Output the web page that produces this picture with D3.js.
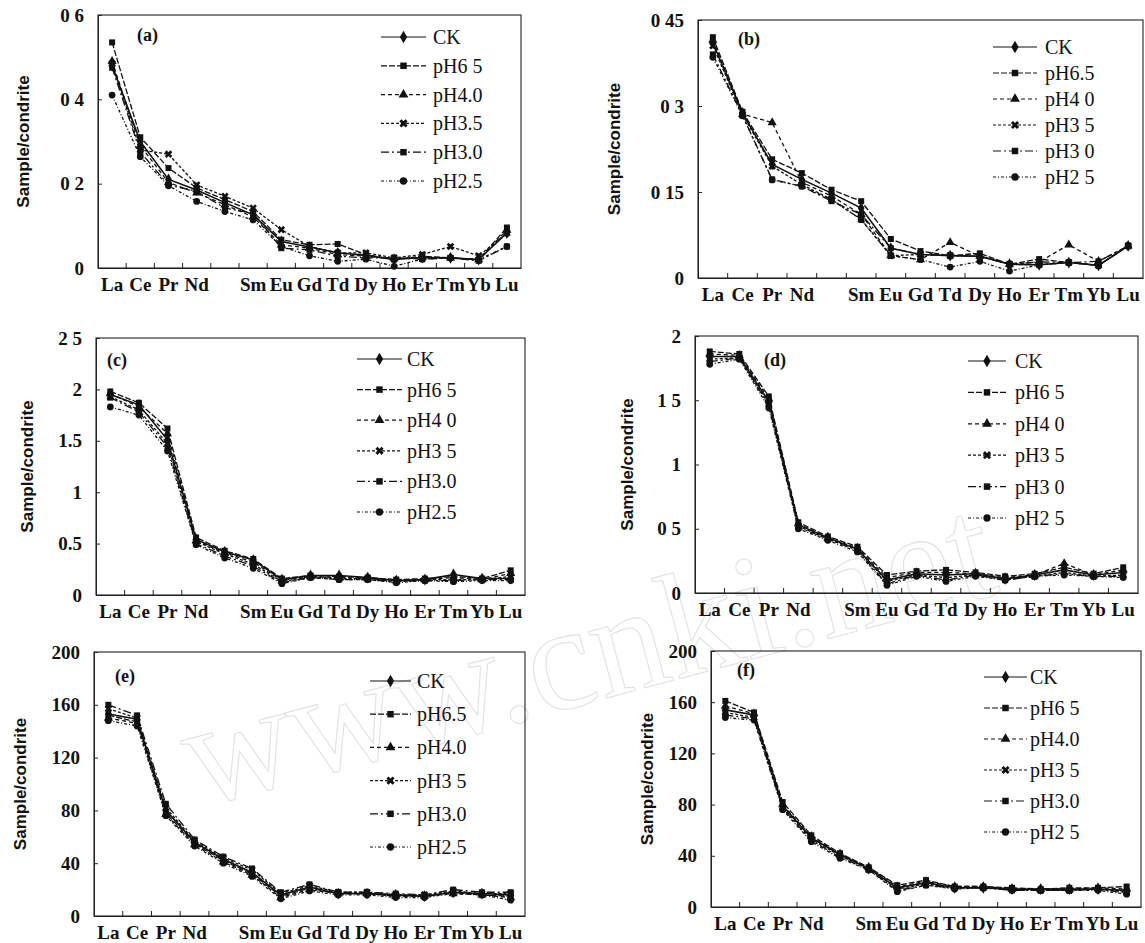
<!DOCTYPE html>
<html><head><meta charset="utf-8">
<script src="https://cdn.jsdelivr.net/npm/d3@7/dist/d3.min.js"></script>
<style>
html,body{margin:0;padding:0;background:#fff;}
svg{display:block;}
</style></head>
<body>
<svg id="chart" width="1145" height="943"></svg>
<script>
// ---------- DATA ----------
const elements = ["La","Ce","Pr","Nd","Pm","Sm","Eu","Gd","Td","Dy","Ho","Er","Tm","Yb","Lu"];
const elementLabels = ["La","Ce","Pr","Nd","","Sm","Eu","Gd","Td","Dy","Ho","Er","Tm","Yb","Lu"];
const seriesKeys = ["CK","pH6.5","pH4.0","pH3.5","pH3.0","pH2.5"];

// panel (a)
const legendA = ["CK","pH6 5","pH4.0","pH3.5","pH3.0","pH2.5"];
const tickValsA = [0,0.2,0.4,0.6];
const tickLabelsA = ["0","0 2","0 4","0 6"];
const a_CK   = [0.480,0.300,0.210,0.185,0.155,0.126,0.063,0.050,0.036,0.030,0.020,0.025,0.024,0.020,0.083];
const a_pH65 = [0.535,0.310,0.237,0.190,0.162,0.134,0.067,0.055,0.057,0.032,0.020,0.028,0.024,0.020,0.096];
const a_pH40 = [0.490,0.290,0.203,0.178,0.150,0.121,0.055,0.047,0.032,0.028,0.022,0.025,0.024,0.020,0.090];
const a_pH35 = [0.485,0.280,0.270,0.197,0.170,0.142,0.091,0.051,0.036,0.036,0.024,0.032,0.051,0.029,0.083];
const a_pH30 = [0.475,0.275,0.197,0.182,0.142,0.130,0.047,0.043,0.028,0.024,0.024,0.021,0.024,0.017,0.051];
const a_pH25 = [0.410,0.264,0.195,0.158,0.134,0.114,0.051,0.029,0.016,0.021,0.004,0.021,0.024,0.020,0.051];

// panel (b)
const legendB = ["CK","pH6.5","pH4 0","pH3 5","pH3 0","pH2 5"];
const tickValsB = [0,0.15,0.3,0.45];
const tickLabelsB = ["0","0 15","0 3","0 45"];
const b_CK   = [0.410,0.288,0.198,0.172,0.148,0.122,0.052,0.041,0.039,0.038,0.024,0.023,0.027,0.022,0.056];
const b_pH65 = [0.420,0.290,0.207,0.183,0.154,0.134,0.068,0.047,0.039,0.043,0.024,0.033,0.027,0.022,0.056];
const b_pH40 = [0.415,0.286,0.271,0.167,0.143,0.111,0.039,0.032,0.062,0.038,0.024,0.028,0.058,0.029,0.056];
const b_pH35 = [0.405,0.285,0.195,0.163,0.137,0.102,0.039,0.041,0.039,0.038,0.024,0.023,0.027,0.022,0.056];
const b_pH30 = [0.390,0.284,0.172,0.160,0.134,0.111,0.052,0.041,0.039,0.038,0.024,0.028,0.027,0.029,0.056];
const b_pH25 = [0.385,0.283,0.171,0.160,0.137,0.102,0.039,0.032,0.019,0.029,0.012,0.023,0.027,0.022,0.056];

// panel (c)
const legendC = ["CK","pH6 5","pH4 0","pH3 5","pH3.0","pH2.5"];
const tickValsC = [0,0.5,1,1.5,2,2.5];
const tickLabelsC = ["0","0.5","1","1.5","2","2 5"];
const c_CK   = [1.95,1.85,1.51,0.54,0.42,0.34,0.15,0.19,0.19,0.17,0.14,0.15,0.20,0.16,0.16];
const c_pH65 = [1.98,1.87,1.62,0.56,0.43,0.35,0.16,0.19,0.18,0.17,0.15,0.16,0.18,0.16,0.24];
const c_pH40 = [1.96,1.83,1.57,0.53,0.41,0.32,0.14,0.18,0.17,0.16,0.14,0.15,0.17,0.15,0.21];
const c_pH35 = [1.93,1.80,1.47,0.52,0.40,0.30,0.13,0.18,0.16,0.16,0.13,0.15,0.15,0.15,0.18];
const c_pH30 = [1.92,1.78,1.44,0.50,0.38,0.28,0.12,0.17,0.15,0.15,0.13,0.14,0.14,0.15,0.15];
const c_pH25 = [1.83,1.75,1.40,0.49,0.36,0.26,0.11,0.17,0.15,0.15,0.12,0.14,0.13,0.14,0.14];

// panel (d)
const legendD = ["CK","pH6 5","pH4 0","pH3 5","pH3 0","pH2 5"];
const tickValsD = [0,0.5,1,1.5,2];
const tickLabelsD = ["0","0 5","1","1 5","2"];
const d_CK   = [1.84,1.84,1.49,0.53,0.43,0.34,0.10,0.15,0.14,0.15,0.11,0.14,0.18,0.14,0.16];
const d_pH65 = [1.88,1.86,1.53,0.55,0.44,0.36,0.14,0.17,0.18,0.16,0.13,0.15,0.20,0.15,0.20];
const d_pH40 = [1.86,1.85,1.51,0.54,0.43,0.35,0.12,0.16,0.16,0.15,0.12,0.14,0.23,0.14,0.18];
const d_pH35 = [1.82,1.83,1.47,0.52,0.42,0.34,0.09,0.14,0.12,0.14,0.11,0.13,0.16,0.13,0.14];
const d_pH30 = [1.80,1.83,1.46,0.51,0.42,0.33,0.07,0.14,0.10,0.14,0.10,0.13,0.15,0.13,0.13];
const d_pH25 = [1.78,1.82,1.44,0.50,0.41,0.32,0.06,0.13,0.09,0.13,0.10,0.13,0.14,0.13,0.12];

// panel (e)
const legendE = ["CK","pH6.5","pH4.0","pH3 5","pH3.0","pH2.5"];
const tickValsE = [0,40,80,120,160,200];
const tickLabelsE = ["0","40","80","120","160","200"];
const e_CK   = [153,149,80,56,43,33,16,22,17,17,16,15,18,17,16];
const e_pH65 = [152,147,78,55,42,32,15,21,17,17,15,15,18,16,15];
const e_pH40 = [150,146,77,54,41,31,14,20,17,17,15,15,17,16,14];
const e_pH35 = [157,150,82,57,44,35,17,23,18,18,16,16,19,17,17];
const e_pH30 = [160,152,85,58,45,36,18,24,18,18,17,16,20,18,18];
const e_pH25 = [148,144,76,53,40,30,13,19,16,16,14,14,17,16,12];

// panel (f)
const legendF = ["CK","pH6 5","pH4.0","pH3 5","pH3.0","pH2 5"];
const tickValsF = [0,40,80,120,160,200];
const tickLabelsF = ["0","40","80","120","160","200"];
const f_CK   = [154,150,79,54,41,30,15,19,15,15,14,14,14,14,13];
const f_pH65 = [161,152,82,56,42,31,17,21,16,16,15,14,15,15,16];
const f_pH40 = [157,151,80,55,41,31,16,20,16,16,14,14,14,15,14];
const f_pH35 = [152,148,78,53,40,30,14,18,15,15,14,13,13,14,12];
const f_pH30 = [150,147,77,52,39,29,13,17,15,15,13,13,13,14,11];
const f_pH25 = [148,146,76,51,38,29,12,17,14,15,13,13,13,13,10];

// ---------- LAYOUT ----------
const panels = [
  {tag:"(a)", vals:[a_CK,a_pH65,a_pH40,a_pH35,a_pH30,a_pH25], legend:legendA, ticks:tickValsA, tickLabels:tickLabelsA,
   L:98, R:521, T:15, B:268, titleX:23, tagX:137, tagY:35, lgX1:381, lgX2:426, lgTx:433, lgY:37, lgDy:28.8},
  {tag:"(b)", vals:[b_CK,b_pH65,b_pH40,b_pH35,b_pH30,b_pH25], legend:legendB, ticks:tickValsB, tickLabels:tickLabelsB,
   L:698, R:1143, T:20, B:278, titleX:614, tagX:738, tagY:39, lgX1:993, lgX2:1037, lgTx:1045, lgY:47, lgDy:26},
  {tag:"(c)", vals:[c_CK,c_pH65,c_pH40,c_pH35,c_pH30,c_pH25], legend:legendC, ticks:tickValsC, tickLabels:tickLabelsC,
   L:96, R:525, T:338, B:595, titleX:27, tagX:107, tagY:360, lgX1:357, lgX2:402, lgTx:407, lgY:359, lgDy:30.6},
  {tag:"(d)", vals:[d_CK,d_pH65,d_pH40,d_pH35,d_pH30,d_pH25], legend:legendD, ticks:tickValsD, tickLabels:tickLabelsD,
   L:695, R:1138, T:336, B:593, titleX:627, tagX:764, tagY:360, lgX1:968, lgX2:1006, lgTx:1015, lgY:361, lgDy:31.4},
  {tag:"(e)", vals:[e_CK,e_pH65,e_pH40,e_pH35,e_pH30,e_pH25], legend:legendE, ticks:tickValsE, tickLabels:tickLabelsE,
   L:94, R:525, T:652, B:916, titleX:20, tagX:115, tagY:676, lgX1:370, lgX2:411, lgTx:417, lgY:681, lgDy:33.2},
  {tag:"(f)", vals:[f_CK,f_pH65,f_pH40,f_pH35,f_pH30,f_pH25], legend:legendF, ticks:tickValsF, tickLabels:tickLabelsF,
   L:711, R:1141, T:651, B:907, titleX:647, tagX:737, tagY:670, lgX1:984, lgX2:1027, lgTx:1030, lgY:677, lgDy:31}
];

const symbols = [d3.symbolDiamond, d3.symbolSquare, d3.symbolTriangle, d3.symbolCross, d3.symbolSquare, d3.symbolCircle];
const symSizes = [40, 36, 36, 36, 36, 36];
const symRot = [0,0,0,45,0,0];
const dashes = ["none","6,2","4,3","3,2","8,3,2,3","3,2,1,2"];
const serif = "'Liberation Serif','Times New Roman',serif";
const sans = "'Liberation Sans',Arial,sans-serif";

const svg = d3.select("#chart");

// faint watermark
svg.append("text")
  .attr("transform","translate(600,700) rotate(-15)")
  .attr("text-anchor","middle")
  .style("font-family",serif).style("font-size","150px")
  .attr("fill","none").attr("stroke","#e2e2e2").attr("stroke-width",1.1)
  .text("www.cnki.net");

panels.forEach(p => {
  const g = svg.append("g");
  const x = d3.scaleBand().domain(elements).range([p.L, p.R]).paddingInner(0).paddingOuter(0);
  const yMax = p.ticks[p.ticks.length-1];
  const y = d3.scaleLinear().domain([0, yMax]).range([p.B, p.T]);

  // frame
  g.append("rect").attr("x",p.L).attr("y",p.T).attr("width",p.R-p.L).attr("height",p.B-p.T)
    .attr("fill","none").attr("stroke","#222").attr("stroke-width",1.1);

  // y axis
  const ya = d3.axisLeft(y).tickValues(p.ticks).tickFormat((d,i)=>p.tickLabels[i])
    .tickSizeInner(-4).tickSizeOuter(0).tickPadding(14);
  const yg = g.append("g").attr("transform",`translate(${p.L},0)`).call(ya);
  yg.select(".domain").attr("stroke","#222");
  yg.selectAll(".tick line").attr("stroke","#222");
  yg.selectAll("text").style("font-family",serif).style("font-size","19px").style("font-weight","bold").attr("fill","#111");

  // x axis (labels centered in bands, ticks at boundaries)
  const xa = d3.axisBottom(x).tickFormat((d,i)=>elementLabels[i]).tickSize(0).tickPadding(10);
  const xg = g.append("g").attr("transform",`translate(0,${p.B})`).call(xa);
  xg.select(".domain").attr("stroke","#222");
  xg.selectAll("text").style("font-family",serif).style("font-size","19px").style("font-weight","bold").attr("fill","#111");
  const bounds = elements.slice(1).map(e => x(e));
  g.selectAll(".xb").data(bounds).enter().append("line")
    .attr("x1",d=>d).attr("x2",d=>d).attr("y1",p.B).attr("y2",p.B-5).attr("stroke","#222");

  // y title
  g.append("text").attr("transform",`translate(${p.titleX},${(p.T+p.B)/2}) rotate(-90)`)
    .attr("text-anchor","middle").attr("dy","0.35em")
    .style("font-family",sans).style("font-size","17px").style("font-weight","600").attr("fill","#111")
    .text("Sample/condrite");

  // panel tag
  g.append("text").attr("x",p.tagX).attr("y",p.tagY).attr("dy","0.35em")
    .style("font-family",serif).style("font-size","18px").style("font-weight","bold").attr("fill","#111")
    .text(p.tag);

  // series
  const line = d3.line().x((d,i)=>x(elements[i]) + x.bandwidth()/2).y(d=>y(d));
  p.vals.forEach((vals, s) => {
    g.append("path").datum(vals).attr("d",line).attr("fill","none")
      .attr("stroke","#111").attr("stroke-width", s===0?1.6:1.3)
      .attr("stroke-dasharray", dashes[s]);
    const sym = d3.symbol().type(symbols[s]).size(symSizes[s]);
    g.selectAll(null).data(vals).enter().append("path")
      .attr("d",sym)
      .attr("transform",(d,i)=>`translate(${x(elements[i]) + x.bandwidth()/2},${y(d)}) rotate(${symRot[s]})`)
      .attr("fill","#111");
  });

  // legend
  p.legend.forEach((name, s) => {
    const ly = p.lgY + s*p.lgDy;
    g.append("line").attr("x1",p.lgX1).attr("x2",p.lgX2).attr("y1",ly).attr("y2",ly)
      .attr("stroke","#111").attr("stroke-width",1.2).attr("stroke-dasharray",dashes[s]);
    g.append("path").attr("d", d3.symbol().type(symbols[s]).size(symSizes[s]+6)())
      .attr("transform",`translate(${(p.lgX1+p.lgX2)/2},${ly}) rotate(${symRot[s]})`).attr("fill","#111");
    g.append("text").attr("x",p.lgTx).attr("y",ly).attr("dy","0.35em")
      .style("font-family",serif).style("font-size","20px").attr("fill","#111")
      .text(name);
  });
});
</script>
</body></html>
